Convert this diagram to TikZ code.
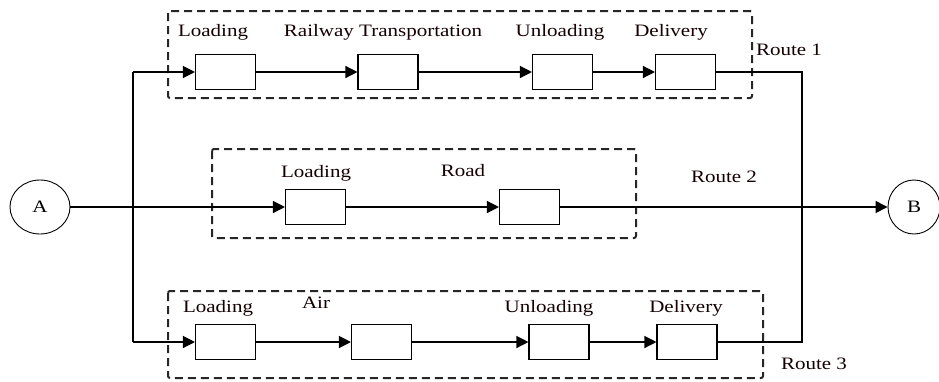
\documentclass[tikz,border=0pt]{standalone}
\usepackage{graphicx}
\usepackage{fontspec}
\setmainfont{Liberation Serif}
\usetikzlibrary{arrows.meta,shapes.geometric}
\newcommand{\sq}[1]{\scalebox{1}[0.83]{#1}}
\begin{document}
\begin{tikzpicture}[x=1pt,y=-1pt,
  stage/.style={draw,line width=1.1pt,minimum width=60pt,minimum height=35pt,inner sep=0pt},
  lbl/.style={font=\fontsize{21}{24}\selectfont,anchor=base,inner sep=0pt,text=black!92!red},
  group/.style={draw=black!85,line width=2pt,dash pattern=on 8pt off 5pt,rounded corners=2pt},
  conn/.style={line width=1.3pt},
  arr/.style={conn,-{Triangle[length=12pt,width=12pt]}},
  term/.style={draw,line width=0.9pt,ellipse,minimum width=60pt,minimum height=54pt,inner sep=0pt}]
\useasboundingbox (0,0) rectangle (939,381);
% groups
\draw[group] (168,11) rectangle (752,98);
\draw[group] (212,149) rectangle (636,238);
\draw[group] (168,291) rectangle (763,378);
% terminals
\node[term] (A) at (40,207) {\fontsize{21}{24}\selectfont\sq{A}};
\node[term,minimum width=52pt] (B) at (914,207) {\fontsize{21}{24}\selectfont\sq{B}};
% route 1
\node[stage] (r1a) at (225.5,72) {};
\node[stage] (r1b) at (388,72) {};
\node[stage] (r1c) at (562.5,72) {};
\node[stage] (r1d) at (685.5,72) {};
% route 2
\node[stage] (r2a) at (315.5,207) {};
\node[stage] (r2b) at (529.5,207) {};
% route 3
\node[stage] (r3a) at (225.5,342) {};
\node[stage] (r3b) at (381.5,342) {};
\node[stage] (r3c) at (559,342) {};
\node[stage] (r3d) at (687,342) {};
% junctions
\coordinate (jt) at (133,72);
\coordinate (jb) at (133,342);
\coordinate (kt) at (802,72);
\coordinate (kb) at (802,342);
% labels
\node[lbl] (l1a) at (213,36) {\sq{Loading}};
\node[lbl] (l1b) at (383,36) {\sq{Railway Transportation}};
\node[lbl] (l1c) at (560,36) {\sq{Unloading}};
\node[lbl] (l1d) at (671,36) {\sq{Delivery}};
\node[lbl] (l1r) at (789,55) {\sq{Route 1}};
\node[lbl] (l2a) at (316,177) {\sq{Loading}};
\node[lbl] (l2b) at (463,176) {\sq{Road}};
\node[lbl] (l2r) at (724,182) {\sq{Route 2}};
\node[lbl] (l3a) at (218,312) {\sq{Loading}};
\node[lbl] (l3b) at (316,308) {\sq{Air}};
\node[lbl] (l3c) at (549,312) {\sq{Unloading}};
\node[lbl] (l3d) at (686,312) {\sq{Delivery}};
\node[lbl] (l3r) at (814,369) {\sq{Route 3}};
% connectors
\draw[arr] (A.east) -- (r2a.west);
\draw[conn] (jt) -- (jb);
\draw[arr] (jt) -- (r1a.west);
\draw[arr] (jb) -- (r3a.west);
\draw[arr] (r1a) -- (r1b);
\draw[arr] (r1b) -- (r1c);
\draw[arr] (r1c) -- (r1d);
\draw[arr] (r2a) -- (r2b);
\draw[arr] (r3a) -- (r3b);
\draw[arr] (r3b) -- (r3c);
\draw[arr] (r3c) -- (r3d);
\draw[conn] (r1d.east) -- (kt) -- (kb) -- (r3d.east);
\draw[arr] (r2b.east) -- (B.west);
\end{tikzpicture}
\end{document}
